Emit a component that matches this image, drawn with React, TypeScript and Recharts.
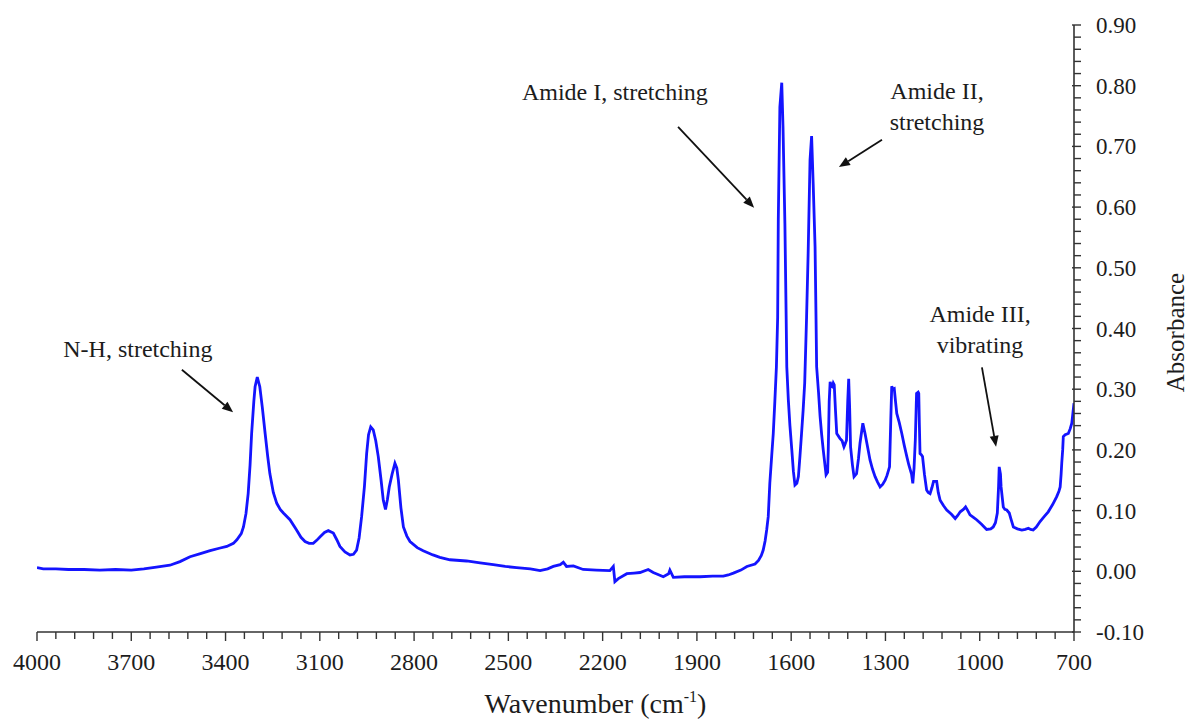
import React from 'react';
import { LineChart, Line, XAxis, YAxis, ReferenceLine, ReferenceDot } from 'recharts';

const wavenumbers = [
  4000, 3980, 3940, 3900, 3850, 3800, 3750, 3700, 3660, 3620, 3577, 3545, 3513, 3480, 3449, 3420, 3396, 3375, 3364, 3350,
  3343, 3335, 3328, 3322, 3317, 3310, 3306, 3299, 3291, 3283, 3274, 3266, 3259, 3248, 3237, 3226, 3216, 3195, 3174, 3160,
  3147, 3134, 3121, 3110, 3099, 3085, 3073, 3057, 3046, 3036, 3020, 3004, 2993, 2983, 2975, 2967, 2958, 2951, 2945, 2938,
  2930, 2922, 2914, 2905, 2898, 2891, 2885, 2879, 2870, 2861, 2855, 2850, 2842, 2834, 2823, 2813, 2790, 2771, 2740, 2718,
  2686, 2633, 2590, 2548, 2510, 2474, 2430, 2399, 2375, 2357, 2335, 2325, 2315, 2293, 2262, 2220, 2177, 2166, 2161, 2150,
  2123, 2100, 2081, 2055, 2039, 2020, 2007, 1990, 1986, 1975, 1940, 1890, 1850, 1816, 1800, 1784, 1760, 1741, 1715, 1704,
  1695, 1689, 1683, 1678, 1673, 1668, 1662, 1657, 1652, 1647, 1643, 1641, 1636, 1630, 1626, 1620, 1616, 1614, 1609, 1604,
  1598, 1593, 1588, 1582, 1577, 1572, 1567, 1562, 1557, 1551, 1546, 1540, 1535, 1530, 1524, 1521, 1519, 1513, 1508, 1503,
  1498, 1489, 1484, 1482, 1479, 1476, 1472, 1469, 1466, 1463, 1459, 1455, 1445, 1438, 1432, 1428, 1424, 1420, 1417, 1414,
  1411, 1405, 1400, 1392, 1386, 1381, 1372, 1365, 1357, 1349, 1341, 1333, 1325, 1317, 1309, 1301, 1295, 1287, 1283, 1280,
  1276, 1272, 1268, 1264, 1256, 1248, 1240, 1232, 1226, 1221, 1217, 1213, 1209, 1205, 1201, 1196, 1194, 1192, 1190, 1186,
  1182, 1176, 1169, 1164, 1158, 1152, 1147, 1137, 1132, 1126, 1115, 1105, 1090, 1078, 1070, 1062, 1052, 1045, 1038, 1031,
  1020, 1010, 995, 978, 965, 957, 950, 944, 940, 938, 934, 932, 928, 925, 920, 914, 906, 900, 893, 880,
  866, 855, 845, 838, 830, 820, 808, 795, 782, 768, 755, 748, 744, 741, 739, 736, 734, 728, 718, 712,
  707, 704, 700,
];

const absorbance = [
  0.006, 0.004, 0.004, 0.003, 0.003, 0.002, 0.003, 0.002, 0.004, 0.007, 0.010, 0.016, 0.024, 0.029, 0.034, 0.038, 0.041, 0.046, 0.052, 0.062,
  0.073, 0.095, 0.128, 0.175, 0.227, 0.280, 0.304, 0.320, 0.304, 0.270, 0.227, 0.190, 0.161, 0.130, 0.112, 0.102, 0.096, 0.085, 0.068, 0.056,
  0.049, 0.046, 0.046, 0.051, 0.057, 0.064, 0.067, 0.063, 0.052, 0.041, 0.032, 0.027, 0.028, 0.035, 0.055, 0.090, 0.140, 0.194, 0.225, 0.238,
  0.233, 0.215, 0.189, 0.150, 0.117, 0.102, 0.118, 0.139, 0.160, 0.178, 0.170, 0.150, 0.105, 0.073, 0.058, 0.049, 0.039, 0.034, 0.027, 0.023,
  0.019, 0.017, 0.014, 0.011, 0.008, 0.006, 0.004, 0.001, 0.004, 0.008, 0.011, 0.015, 0.008, 0.009, 0.003, 0.002, 0.001, 0.008, -0.017, -0.012,
  -0.004, -0.003, -0.002, 0.003, -0.002, -0.006, -0.009, -0.004, 0.002, -0.010, -0.009, -0.009, -0.008, -0.008, -0.006, -0.003, 0.002, 0.008, 0.012, 0.018,
  0.026, 0.035, 0.050, 0.068, 0.090, 0.145, 0.190, 0.227, 0.280, 0.337, 0.419, 0.579, 0.765, 0.805, 0.732, 0.573, 0.419, 0.337, 0.282, 0.240,
  0.200, 0.165, 0.142, 0.145, 0.156, 0.190, 0.227, 0.265, 0.310, 0.419, 0.524, 0.678, 0.717, 0.639, 0.535, 0.419, 0.337, 0.295, 0.255, 0.225,
  0.200, 0.159, 0.163, 0.200, 0.280, 0.312, 0.305, 0.304, 0.310, 0.307, 0.265, 0.227, 0.219, 0.215, 0.205, 0.210, 0.216, 0.280, 0.317, 0.270,
  0.205, 0.175, 0.156, 0.161, 0.185, 0.211, 0.244, 0.227, 0.205, 0.183, 0.168, 0.156, 0.147, 0.139, 0.143, 0.150, 0.158, 0.172, 0.250, 0.305,
  0.300, 0.301, 0.280, 0.260, 0.245, 0.227, 0.207, 0.189, 0.176, 0.167, 0.160, 0.145, 0.170, 0.216, 0.293, 0.295, 0.293, 0.240, 0.194, 0.192,
  0.189, 0.160, 0.134, 0.130, 0.128, 0.138, 0.148, 0.148, 0.130, 0.117, 0.108, 0.101, 0.094, 0.087, 0.092, 0.098, 0.102, 0.106, 0.100, 0.093,
  0.089, 0.085, 0.078, 0.069, 0.070, 0.073, 0.080, 0.096, 0.140, 0.172, 0.160, 0.139, 0.120, 0.106, 0.102, 0.101, 0.096, 0.085, 0.073, 0.070,
  0.068, 0.069, 0.071, 0.069, 0.068, 0.073, 0.082, 0.090, 0.098, 0.110, 0.123, 0.132, 0.139, 0.160, 0.178, 0.200, 0.222, 0.225, 0.227, 0.235,
  0.244, 0.258, 0.277,
];

const xMajorTicks = [4000, 3700, 3400, 3100, 2800, 2500, 2200, 1900, 1600, 1300, 1000, 700];
const yMajorTicks = [-0.1, 0.0, 0.1, 0.2, 0.3, 0.4, 0.5, 0.6, 0.7, 0.8, 0.9];

const annotationTexts = [
  { lines: ['N-H, stretching'], x: 3679, y: 0.366 },
  { lines: ['Amide I, stretching'], x: 2161, y: 0.79 },
  { lines: ['Amide II,', 'stretching'], x: 1136, y: 0.765 },
  { lines: ['Amide III,', 'vibrating'], x: 999, y: 0.399 },
];

const annotationArrows = [
  { from: { x: 3539, y: 0.332 }, to: { x: 3376, y: 0.262 } },
  { from: { x: 1960, y: 0.732 }, to: { x: 1718, y: 0.599 } },
  { from: { x: 1311, y: 0.711 }, to: { x: 1448, y: 0.666 } },
  { from: { x: 993, y: 0.336 }, to: { x: 948, y: 0.205 } },
];

const data = wavenumbers.map((w, i) => ({ w, a: absorbance[i] }));

// minor ticks: 5 subdivisions between major ticks
const xTicks: number[] = [];
for (let i = 0; i < xMajorTicks.length - 1; i++) {
  const a = xMajorTicks[i];
  const b = xMajorTicks[i + 1];
  for (let k = 0; k < 5; k++) xTicks.push(a + ((b - a) * k) / 5);
}
xTicks.push(xMajorTicks[xMajorTicks.length - 1]);

const yTicks: number[] = [];
for (let i = 0; i < yMajorTicks.length - 1; i++) {
  const a = yMajorTicks[i];
  const b = yMajorTicks[i + 1];
  for (let k = 0; k < 5; k++) yTicks.push(Math.round((a + ((b - a) * k) / 5) * 100) / 100);
}
yTicks.push(yMajorTicks[yMajorTicks.length - 1]);

const FONT = '"Liberation Serif", "Times New Roman", Times, serif';
const TEXT = '#1c1c1c';
const AXIS = '#333';

const XTick = (props: any) => {
  const { x, y, payload } = props;
  const major = xMajorTicks.some((t) => Math.abs(t - payload.value) < 1e-6);
  return (
    <g>
      <line x1={x} y1={y} x2={x} y2={y + (major ? 9 : 7)} stroke={AXIS} strokeWidth={1.4} />
      {major && (
        <text x={x} y={y + 38} textAnchor="middle" fontSize={24} fontFamily={FONT} fill={TEXT}>
          {payload.value}
        </text>
      )}
    </g>
  );
};

const YTick = (props: any) => {
  const { x, y, payload } = props;
  const major = yMajorTicks.some((t) => Math.abs(t - payload.value) < 1e-6);
  return (
    <g>
      <line x1={major ? x - 2 : x} y1={y} x2={x + 7} y2={y} stroke={AXIS} strokeWidth={1.4} />
      {major && (
        <text x={x + 22} y={y + 8} textAnchor="start" fontSize={23} fontFamily={FONT} fill={TEXT}>
          {Number(payload.value).toFixed(2)}
        </text>
      )}
    </g>
  );
};

const XTitle = (props: any) => {
  const vb = props.viewBox || {};
  const cx = vb.x + vb.width / 2 + 40;
  const cy = vb.y + 81;
  return (
    <text x={cx} y={cy} textAnchor="middle" fontSize={28} fontFamily={FONT} fill={TEXT}>
      Wavenumber (cm
      <tspan dy={-11} fontSize={16}>-1</tspan>
      <tspan dy={11}>)</tspan>
    </text>
  );
};

const YTitle = (props: any) => {
  const vb = props.viewBox || {};
  const cx = vb.x + vb.width - 15;
  const cy = vb.y + vb.height / 2 + 4;
  return (
    <text
      x={cx}
      y={cy}
      transform={`rotate(-90, ${cx}, ${cy})`}
      textAnchor="middle"
      dominantBaseline="central"
      fontSize={25}
      fontFamily={FONT}
      fill={TEXT}
    >
      Absorbance
    </text>
  );
};

const ArrowShape = (props: any) => {
  const { x1, y1, x2, y2 } = props;
  if ([x1, y1, x2, y2].some((v) => typeof v !== 'number' || isNaN(v))) return null;
  const dx = x2 - x1;
  const dy = y2 - y1;
  const len = Math.sqrt(dx * dx + dy * dy) || 1;
  const ux = dx / len;
  const uy = dy / len;
  const hl = 11;
  const hw = 4.5;
  const bx = x2 - ux * hl;
  const by = y2 - uy * hl;
  const p1 = `${x2},${y2}`;
  const p2 = `${bx - uy * hw},${by + ux * hw}`;
  const p3 = `${bx + uy * hw},${by - ux * hw}`;
  return (
    <g>
      <line x1={x1} y1={y1} x2={bx} y2={by} stroke="#111" strokeWidth={1.8} />
      <polygon points={`${p1} ${p2} ${p3}`} fill="#111" />
    </g>
  );
};

const makeTextShape = (lines: string[]) => (props: any) => {
  const { cx, cy } = props;
  if (typeof cx !== 'number' || typeof cy !== 'number') return null;
  const lh = 31;
  const top = cy - ((lines.length - 1) * lh) / 2;
  return (
    <text textAnchor="middle" fontSize={24} fontFamily={FONT} fill={TEXT}>
      {lines.map((l, i) => (
        <tspan key={i} x={cx} y={top + i * lh + 8}>
          {l}
        </tspan>
      ))}
    </text>
  );
};

export default function App() {
  return (
    <div style={{ position: 'absolute', left: 0, top: 0, width: 1190, height: 720, background: '#fff' }}>
      <LineChart width={1190} height={720} data={data} margin={{ top: 25, right: 0, bottom: 0, left: 37 }}>
        <XAxis
          dataKey="w"
          type="number"
          domain={[700, 4000]}
          reversed
          ticks={xTicks}
          interval={0}
          tick={<XTick />}
          tickLine={false}
          tickSize={0}
          tickMargin={0}
          height={88}
          axisLine={{ stroke: AXIS, strokeWidth: 1.6 }}
          allowDataOverflow
          label={<XTitle />}
        />
        <YAxis
          orientation="right"
          type="number"
          domain={[-0.1, 0.9]}
          ticks={yTicks}
          interval={0}
          tick={<YTick />}
          tickLine={false}
          tickSize={0}
          tickMargin={0}
          width={116}
          axisLine={{ stroke: AXIS, strokeWidth: 1.6 }}
          allowDataOverflow
          label={<YTitle />}
        />
        <Line
          type="linear"
          dataKey="a"
          stroke="#1414ff"
          strokeWidth={2.8}
          dot={false}
          activeDot={false}
          isAnimationActive={false}
        />
        {annotationArrows.map((a, i) => (
          <ReferenceLine key={'arr' + i} segment={[a.from, a.to]} shape={ArrowShape} ifOverflow="visible" />
        ))}
        {annotationTexts.map((t, i) => (
          <ReferenceDot key={'txt' + i} x={t.x} y={t.y} r={0} shape={makeTextShape(t.lines)} ifOverflow="visible" />
        ))}
      </LineChart>
    </div>
  );
}
